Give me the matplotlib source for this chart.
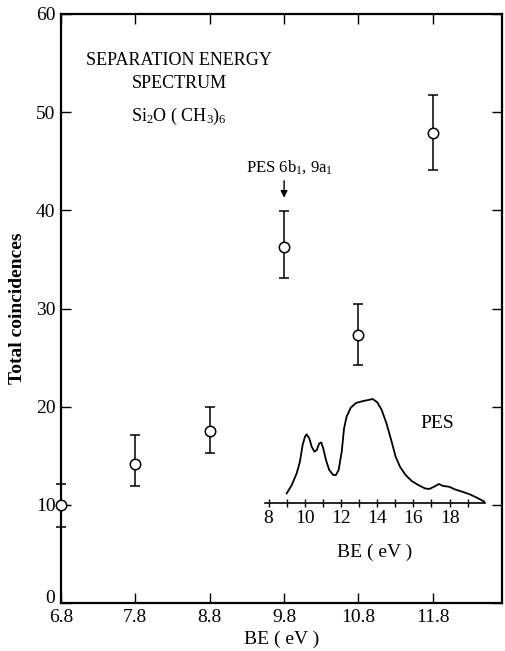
import matplotlib
matplotlib.use("Agg")
import matplotlib.pyplot as plt
import matplotlib.transforms as mtransforms
import numpy as np

plt.rcParams['font.family'] = ['Liberation Serif', 'DejaVu Serif']
plt.rcParams['mathtext.fontset'] = 'custom'
plt.rcParams['mathtext.rm'] = 'Liberation Serif'
plt.rcParams['mathtext.it'] = 'Liberation Serif:italic'

# separation energy spectrum (coincidence counts)
be = [6.8, 7.8, 8.8, 9.8, 10.8, 11.8]
counts = [10.0, 14.2, 17.5, 36.3, 27.3, 47.9]
err_hi = [12.1, 17.1, 20.0, 39.9, 30.5, 51.7]
err_lo = [7.7, 11.9, 15.3, 33.1, 24.2, 44.1]

# photoelectron spectrum trace for the inset
pes_be = [9.0, 9.28, 9.55, 9.73, 9.88, 10.01, 10.10, 10.25, 10.38, 10.53,
          10.66, 10.80, 10.91, 11.02, 11.17, 11.35, 11.57, 11.72, 11.87,
          12.04, 12.17, 12.31, 12.54, 12.83, 13.23, 13.51, 13.75, 14.01,
          14.25, 14.52, 14.80, 15.02, 15.26, 15.57, 15.91, 16.27, 16.64,
          16.88, 17.15, 17.41, 17.65, 17.97, 18.30, 18.70, 19.13, 19.59,
          19.92]
pes_int = [9.3, 17.7, 29.3, 41, 57.7, 66, 68.3, 64.3, 56, 51,
           52.7, 59.3, 60.3, 54.3, 42.7, 32.7, 27.7, 27.7, 32.7,
           51, 74.3, 86, 95, 99.7, 101.7, 102.7, 103.7, 100.3,
           92.7, 79, 61, 46, 36, 27.7, 21.7, 17.7, 14.3,
           13.7, 16, 18.7, 16.7, 16, 13.3, 11, 8.3, 4.3,
           1]

counts = np.array(counts)
yerr = [counts - np.array(err_lo), np.array(err_hi) - counts]

fig = plt.figure(figsize=(5.05, 6.51), dpi=100)
ax = fig.add_axes([61 / 505, 48 / 651, 441 / 505, 589 / 651])

ax.errorbar(be, counts, yerr=yerr, fmt='o', color='black', mfc='white',
            mec='black', ms=7.5, mew=1.1, elinewidth=1.1, capsize=3.5,
            capthick=1.1, clip_on=False, zorder=5)

ax.set_xlim(6.8, 12.73)
ax.set_ylim(0, 60)
ax.set_xticks(be)
ax.set_xticklabels([f"{v:.1f}" for v in be])
ax.set_yticks(range(0, 61, 10))
ax.tick_params(direction='in', length=7, width=1, labelsize=14,
               top=True, right=True, pad=4)
for s in ax.spines.values():
    s.set_linewidth(1.6)

# lift the "0" a little so it clears the 6.8 label
lbl0 = ax.get_yticklabels()[0]
lbl0.set_transform(lbl0.get_transform() +
                   mtransforms.ScaledTranslation(0, 5 / 72, fig.dpi_scale_trans))

ax.set_xlabel("BE ( eV )", fontsize=14, labelpad=4)
ax.set_ylabel("Total coincidences", fontsize=14, fontweight='bold', labelpad=7)

ax.text(8.39, 54.1, "SEPARATION ENERGY\nSPECTRUM", ha='center', va='center',
        fontsize=13, linespacing=1.4)
ax.text(8.38, 49.6, r"Si$_2$O ( CH$_3$)$_6$", ha='center', va='center',
        fontsize=13)

ax.text(9.88, 44.4, r"PES 6b$_1$, 9a$_1$", ha='center', va='center',
        fontsize=12)
ax.annotate("", xy=(9.8, 41.0), xytext=(9.8, 43.3),
            arrowprops=dict(arrowstyle='-|>', color='black', lw=1,
                            mutation_scale=10))

# inset with the photoelectron spectrum
axi = fig.add_axes([265 / 505, (651 - 502.7) / 651, 220 / 505, 110 / 651])
axi.plot(pes_be, pes_int, color='black', lw=1.3, solid_joinstyle='round')
axi.set_xlim(7.8, 19.96)
axi.set_ylim(0, 110)
axi.patch.set_alpha(0)
for k in ['left', 'right', 'top']:
    axi.spines[k].set_visible(False)
axi.spines['bottom'].set_linewidth(1.2)
axi.set_yticks([])
axi.set_xticks([8, 10, 12, 14, 16, 18])
axi.set_xticks(range(9, 20, 2), minor=True)
axi.tick_params(axis='x', which='both', direction='inout', length=6,
                width=1, labelsize=14, pad=2)
axi.set_xlabel("BE ( eV )", fontsize=14, labelpad=12)
axi.text(17.34, 78.7, "PES", fontsize=14, ha='center', va='center')

fig.savefig("out.png", dpi=100)
